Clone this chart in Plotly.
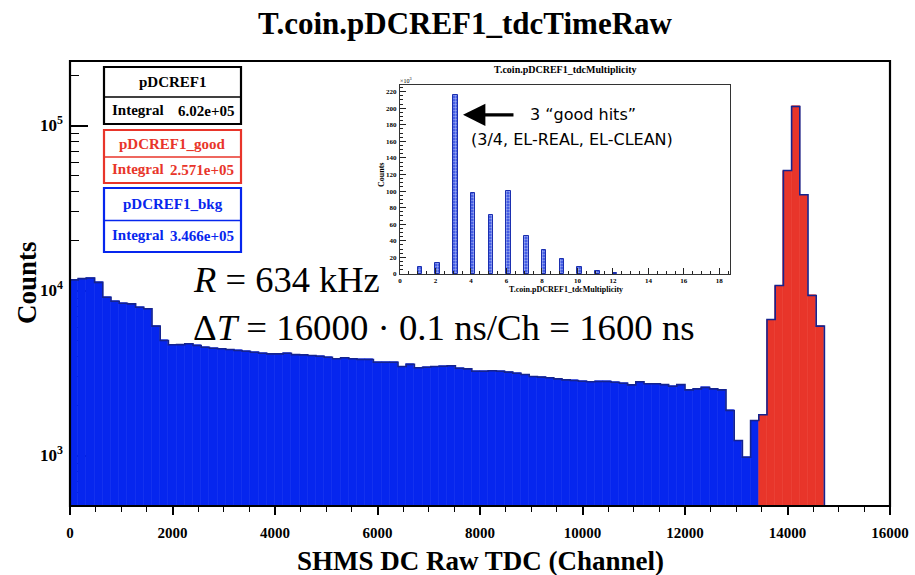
import plotly.graph_objects as go

# ---------------- data ----------------
n_bins = 100
bin_width = 160          # TDC channels per bin
x_max = 16000

# background (blue) histogram, bins 0..83
bkg_counts = [
    11600, 11800, 11900, 11200, 9100, 8610, 8375, 8300, 7925, 7745,
    6080, 4980, 4690, 4700, 4755, 4645, 4530, 4470, 4435, 4390,
    4330, 4285, 4225, 4170, 4130, 4130, 4170, 4090, 4075, 4035,
    3995, 3940, 3855, 3910, 3855, 3820, 3820, 3675, 3675, 3675,
    3460, 3565, 3400, 3430, 3460, 3475, 3500, 3380, 3350, 3240,
    3240, 3265, 3240, 3200, 3155, 3095, 3010, 2985, 2960, 2915,
    2875, 2850, 2820, 2800, 2810, 2810, 2780, 2740, 2680, 2800,
    2720, 2720, 2690, 2630, 2690, 2500, 2535, 2585, 2535, 2500,
    1875, 1233, 977, 1630,
]
# good (red) histogram, bins 84..91
good_first_bin = 84
good_counts = [1766, 6670, 10720, 53350, 130400, 38020, 9330, 6080]

# inset: multiplicity histogram (counts in units of 10^3)
mult_values = [1, 2, 3, 4, 5, 6, 7, 8, 9, 10, 11, 12]
mult_counts_k = [8, 13.3, 216, 98, 71, 100, 46, 28.5, 18.5, 8.4, 4, 1.8]
mult_bin_width = 0.25

x_ticks = [0, 2000, 4000, 6000, 8000, 10000, 12000, 14000, 16000]
x_ticktext = ["0", "2000", "4000", "6000", "8000", "10000", "12000", "14000", "16000"]
y_tickvals = [1e3, 1e4, 1e5]
y_ticktext = ["10<sup>3</sup>", "10<sup>4</sup>", "10<sup>5</sup>"]
y_log_range = [2.694, 5.391]

stat_boxes = [
    ("pDCREF1", "6.02e+05"),
    ("pDCREF1_good", "2.571e+05"),
    ("pDCREF1_bkg", "3.466e+05"),
]

# ---------------- styling ----------------
BLUE = "#0626ee"
RED = "#e8352a"
OUTLINE = "#14238f"
SERIF = "Liberation Serif"

W, H = 915, 575
L, R, T, B = 70, 25, 61, 69
PW, PH = W - L - R, H - T - B


def xp(px):
    return (px - L) / PW


def yp(py):
    return (H - B - py) / PH


# ---------------- build ----------------
bkg_x = [bin_width * (i + 0.5) for i in range(len(bkg_counts))]
good_x = [bin_width * (good_first_bin + i + 0.5) for i in range(len(good_counts))]

total = [0.0] * n_bins
for i, v in enumerate(bkg_counts):
    total[i] += v
for i, v in enumerate(good_counts):
    total[good_first_bin + i] += v

floor_val = 10 ** y_log_range[0]
edges = [bin_width * i for i in range(n_bins + 1)]
ox = [0]
oy = [floor_val]
for i in range(n_bins):
    ox.append(edges[i])
    oy.append(total[i] if total[i] > 0 else floor_val)
ox.append(edges[-1])
oy.append(total[-1] if total[-1] > 0 else floor_val)

fig = go.Figure()
fig.add_trace(go.Bar(x=bkg_x, y=bkg_counts, width=bin_width,
                     marker=dict(color=BLUE, line=dict(color=BLUE, width=0.6)),
                     showlegend=False, hoverinfo="skip"))
fig.add_trace(go.Bar(x=good_x, y=good_counts, width=bin_width,
                     marker=dict(color=RED, line=dict(color=RED, width=0.6)),
                     showlegend=False, hoverinfo="skip"))
fig.add_trace(go.Scatter(x=ox, y=oy, mode="lines", line=dict(color=OUTLINE, width=1.6, shape="hv"),
                         showlegend=False, hoverinfo="skip"))

# inset bars
fig.add_trace(go.Bar(x=[m + mult_bin_width / 2 for m in mult_values], y=mult_counts_k,
                     width=mult_bin_width, xaxis="x2", yaxis="y2",
                     marker=dict(color="#2b48e0",
                                 pattern=dict(shape=".", fgcolor="white", bgcolor="#2b48e0",
                                              size=3, solidity=0.5),
                                 line=dict(color="#1b2fb0", width=1)),
                     showlegend=False, hoverinfo="skip"))

tickfont = dict(family=SERIF, size=15, color="black", weight="bold")
small_font = dict(family=SERIF, size=7, color="black", weight="bold")

fig.update_layout(
    width=W, height=H,
    margin=dict(l=L, r=R, t=T, b=B, autoexpand=False),
    paper_bgcolor="white", plot_bgcolor="white",
    barmode="overlay", bargap=0,
    xaxis=dict(range=[0, x_max], tickvals=x_ticks, ticktext=x_ticktext, ticks="outside", ticklen=8,
               tickwidth=1.5, automargin=False,
               tickcolor="black", showgrid=False, zeroline=False, showline=False,
               tickfont=tickfont, ticklabelstandoff=5,
               minor=dict(dtick=500, ticks="outside", ticklen=5, tickwidth=1.2, tickcolor="black",
                          showgrid=False)),
    yaxis=dict(type="log", range=y_log_range, tickvals=y_tickvals, ticktext=y_ticktext,
               ticks="inside", ticklen=18, tickwidth=1.5, tickcolor="black", automargin=False,
               showgrid=False, zeroline=False, showline=False, layer="below traces",
               tickfont=dict(family=SERIF, size=17, color="black", weight="bold"),
               ticklabelstandoff=6,
               minor=dict(tickvals=[k * 10 ** e for e in range(2, 6) for k in range(2, 10)],
                          ticks="inside", ticklen=9, tickwidth=1.2, tickcolor="black",
                          showgrid=False)),
    xaxis2=dict(domain=[xp(400), xp(730)], anchor="y2", range=[0, 18.6], dtick=2,
                ticks="inside", ticklen=6, tickwidth=1, tickcolor="#222", automargin=False,
                showgrid=False, zeroline=False, showline=True, mirror=True,
                linecolor="#333", linewidth=1, tickfont=small_font, ticklabelstandoff=0,
                minor=dict(dtick=0.5, ticks="inside", ticklen=3, tickcolor="#222", showgrid=False)),
    yaxis2=dict(domain=[yp(274), yp(85)], anchor="x2", range=[0, 228], dtick=20,
                ticks="inside", ticklen=6, tickwidth=1, tickcolor="#222", automargin=False,
                showgrid=False, zeroline=False, showline=True, mirror=True,
                linecolor="#333", linewidth=1, tickfont=small_font, ticklabelstandoff=1,
                minor=dict(dtick=5, ticks="inside", ticklen=3, tickcolor="#222", showgrid=False)),
    title=dict(text="<b>T.coin.pDCREF1_tdcTimeRaw</b>", x=465 / W, xref="container", xanchor="center",
               y=1 - 23 / H, yref="container", yanchor="middle", automargin=False,
               font=dict(family=SERIF, size=31, color="black")),
)

shapes = []
annotations = []

# main frame
shapes.append(dict(type="rect", xref="paper", yref="paper", x0=0, x1=1, y0=0, y1=1,
                   line=dict(color="black", width=2.2), layer="above"))

# stat boxes
box_rows = [(67, 97, 124), (130, 157, 183), (188, 220.5, 252)]
box_colors = ["black", RED, BLUE]
for (name, integ), (ytop, ymid, ybot), col in zip(stat_boxes, box_rows, box_colors):
    shapes.append(dict(type="rect", xref="paper", yref="paper", x0=xp(104), x1=xp(241),
                       y0=yp(ybot), y1=yp(ytop), line=dict(color=col, width=2.2),
                       fillcolor="white", layer="above"))
    shapes.append(dict(type="line", xref="paper", yref="paper", x0=xp(104), x1=xp(241),
                       y0=yp(ymid), y1=yp(ymid), line=dict(color=col, width=1.6), layer="above"))
    annotations.append(dict(text=f"<b>{name}</b>", xref="paper", yref="paper",
                            x=xp(172.5), y=yp((ytop + ymid) / 2), xanchor="center", yanchor="middle",
                            showarrow=False, font=dict(family=SERIF, size=15, color=col)))
    annotations.append(dict(text="<b>Integral</b>", xref="paper", yref="paper",
                            x=xp(110), y=yp((ymid + ybot) / 2 - 1), xanchor="left", yanchor="middle",
                            showarrow=False, font=dict(family=SERIF, size=15, color=col)))
    annotations.append(dict(text=f"<b>{integ}</b>", xref="paper", yref="paper",
                            x=xp(236), y=yp((ymid + ybot) / 2), xanchor="right", yanchor="middle",
                            showarrow=False, font=dict(family=SERIF, size=15, color=col)))

# physics annotations
annotations.append(dict(text="<i>R</i> = 634 kHz", xref="paper", yref="paper",
                        x=xp(191), y=yp(279), xanchor="left", yanchor="middle", showarrow=False,
                        font=dict(family=SERIF, size=36.5, color="black")))
annotations.append(dict(text="Δ<i>T</i> = 16000 · 0.1 ns/Ch = 1600 ns", xref="paper", yref="paper",
                        x=xp(191), y=yp(327), xanchor="left", yanchor="middle", showarrow=False,
                        font=dict(family=SERIF, size=36.8, color="black")))

# axis titles
annotations.append(dict(text="<b>SHMS DC Raw TDC (Channel)</b>", xref="paper", yref="paper",
                        x=0.5, y=yp(561), xanchor="center", yanchor="middle", showarrow=False,
                        font=dict(family=SERIF, size=27, color="black")))
annotations.append(dict(text="<b>Counts</b>", xref="paper", yref="paper",
                        x=xp(27), y=yp(283), xanchor="center", yanchor="middle", showarrow=False,
                        textangle=-90, font=dict(family=SERIF, size=27, color="black")))

# inset texts
annotations.append(dict(text="<b>T.coin.pDCREF1_tdcMultiplicity</b>", xref="paper", yref="paper",
                        x=xp(565), y=yp(70), xanchor="center", yanchor="middle", showarrow=False,
                        font=dict(family=SERIF, size=10, color="black")))
annotations.append(dict(text="<b>T.coin.pDCREF1_tdcMultiplicity</b>", xref="paper", yref="paper",
                        x=xp(566), y=yp(289), xanchor="center", yanchor="middle", showarrow=False,
                        font=dict(family=SERIF, size=8, color="black")))
annotations.append(dict(text="<b>Counts</b>", xref="paper", yref="paper",
                        x=xp(381), y=yp(175), xanchor="center", yanchor="middle", showarrow=False,
                        textangle=-90, font=dict(family=SERIF, size=8, color="black")))
annotations.append(dict(text="×10<sup>3</sup>", xref="paper", yref="paper",
                        x=xp(398), y=yp(80), xanchor="left", yanchor="middle", showarrow=False,
                        font=dict(family=SERIF, size=6, color="black")))
annotations.append(dict(text="", x=3.55, y=192, xref="x2", yref="y2", showarrow=True,
                        ax=52, ay=0, arrowhead=2, arrowsize=1.4, arrowwidth=3.2, arrowcolor="black"))
annotations.append(dict(text="3 “good hits”", xref="paper", yref="paper",
                        x=xp(528), y=yp(114), xanchor="left", yanchor="middle", showarrow=False,
                        font=dict(family="DejaVu Sans", size=16, color="black")))
annotations.append(dict(text="(3/4, EL-REAL, EL-CLEAN)", xref="paper", yref="paper",
                        x=xp(469), y=yp(139), xanchor="left", yanchor="middle", showarrow=False,
                        font=dict(family="DejaVu Sans", size=16, color="black")))

fig.update_layout(shapes=shapes, annotations=annotations)
fig.write_html("out.html", config={"displayModeBar": False},
               post_script="document.body.style.margin='0px';")
